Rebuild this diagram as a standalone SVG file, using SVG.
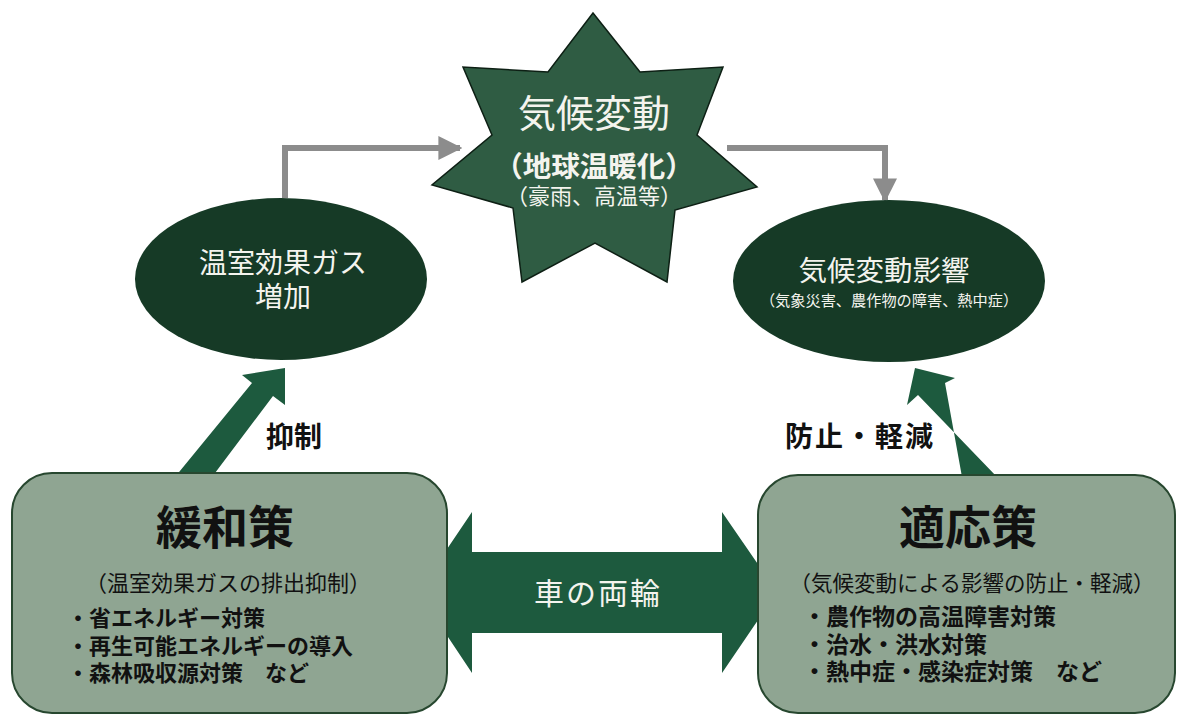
<svg xmlns="http://www.w3.org/2000/svg" width="1182" height="715" viewBox="0 0 1182 715">
<style>
.jp{font-family:"Noto Sans CJK JP","Noto Sans",sans-serif;text-anchor:middle}
.w{fill:#f4f4ee}
.k{fill:#111}
.b{font-weight:bold}
.l{text-anchor:start}
.grey{fill:none;stroke:#8c8c8c;stroke-width:6}
.box{fill:#8fa592;stroke:#27472f;stroke-width:2}
.ell{fill:#163a26}
.garrow{fill:#1d5a3e}
</style>
<defs>
<marker id="ah" viewBox="0 0 10 10" refX="9" refY="5" markerWidth="4" markerHeight="4" orient="auto" markerUnits="strokeWidth">
<path d="M0,0 L10,5 L0,10 z" fill="#8c8c8c"/>
</marker>
</defs>
<rect width="1182" height="715" fill="#ffffff"/>

<g id="connectors">
<path class="grey" d="M285,198 V148 H460" marker-end="url(#ah)"/>
<path class="grey" d="M727,148 H885 V200" marker-end="url(#ah)"/>
<polygon class="garrow" points="175,477 252,383 242,375 285,368 285,405 273,396 212,477"/>
<polygon class="garrow" points="962,477 945,383 955,378 915,368 907,405 918,395 997,477"/>
<polygon class="garrow" points="418,592 472,512 472,552 722,552 722,512 777,592 722,673 722,633 472,633 472,673"/>
<text class="jp w" x="598" y="604" font-size="30" letter-spacing="2">車の両輪</text>
<text class="jp k b" x="294" y="447" font-size="28">抑制</text>
<text class="jp k b" x="860" y="447" font-size="28" letter-spacing="2">防止・軽減</text>
</g>

<g id="star">
<polygon points="593,13 640,72 723,67 697,135 757,187 675,210 667,282 595,243 522,282 513,208 432,185 492,135 463,67 548,72" fill="#2f5c43" stroke="#0d1f14" stroke-width="1.5"/>
<text class="jp w" x="594" y="127" font-size="38">気候変動</text>
<text class="jp w b" x="594" y="177" font-size="28.5">（地球温暖化）</text>
<text class="jp w" x="594" y="204" font-size="22">（豪雨、高温等）</text>
</g>

<g id="ghg">
<ellipse class="ell" cx="281" cy="279" rx="146" ry="81"/>
<text class="jp w" x="283" y="273" font-size="28">温室効果ガス</text>
<text class="jp w" x="283" y="307" font-size="28">増加</text>
</g>

<g id="impact">
<ellipse class="ell" cx="889" cy="281" rx="156" ry="81"/>
<text class="jp w" x="884" y="281" font-size="28.5">気候変動影響</text>
<text class="jp w" x="889" y="306" font-size="15.2">（気象災害、農作物の障害、熱中症）</text>
</g>

<g id="mitigation">
<rect class="box" x="12" y="473" width="435" height="240" rx="40"/>
<text class="jp k b" x="225" y="544" font-size="46">緩和策</text>
<text class="jp k" x="228" y="591" font-size="22">（温室効果ガスの排出抑制）</text>
<text class="jp k b l" x="67" y="626" font-size="22">・省エネルギー対策</text>
<text class="jp k b l" x="67" y="654" font-size="22">・再生可能エネルギーの導入</text>
<text class="jp k b l" x="67" y="681" font-size="22">・森林吸収源対策　など</text>
</g>

<g id="adaptation">
<rect class="box" x="758" y="475" width="417" height="238" rx="40"/>
<text class="jp k b" x="968" y="544" font-size="46">適応策</text>
<text class="jp k" x="972" y="591" font-size="21.5">（気候変動による影響の防止・軽減）</text>
<text class="jp k b l" x="803" y="625" font-size="23">・農作物の高温障害対策</text>
<text class="jp k b l" x="803" y="653" font-size="23">・治水・洪水対策</text>
<text class="jp k b l" x="803" y="680" font-size="23">・熱中症・感染症対策　など</text>
</g>
</svg>
